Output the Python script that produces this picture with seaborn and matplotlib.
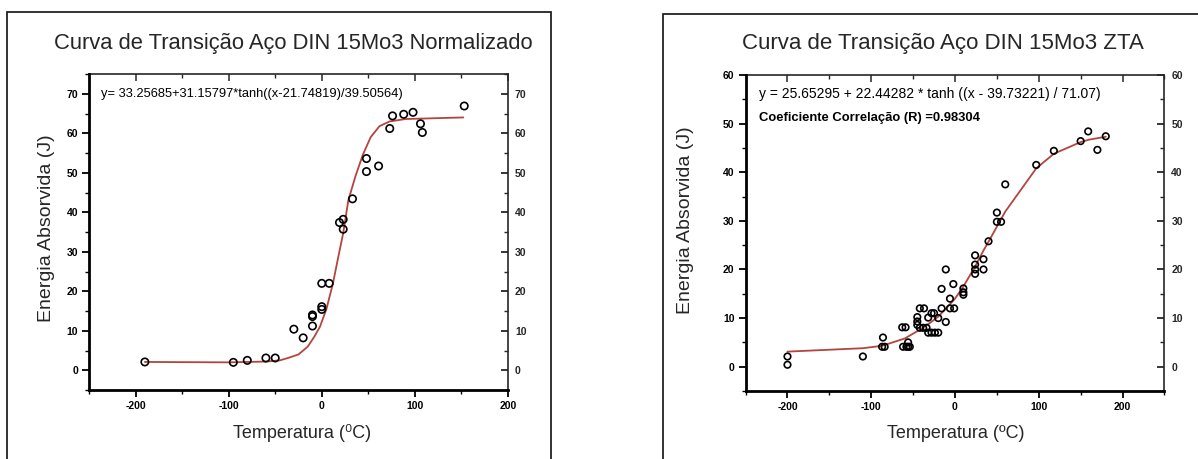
import numpy as np
import pandas as pd
import matplotlib
matplotlib.use("Agg")
import matplotlib.pyplot as plt
from matplotlib.ticker import MultipleLocator
from matplotlib.patches import Rectangle
import seaborn as sns

# ---------------- data ----------------
left_title = "Curva de Transição Aço DIN 15Mo3 Normalizado"
right_title = "Curva de Transição Aço DIN 15Mo3 ZTA"
y_label = "Energia Absorvida (J)"
left_xlabel = "Temperatura (\u2070C)"
right_xlabel = "Temperatura (ºC)"
left_equation = "y= 33.25685+31.15797*tanh((x-21.74819)/39.50564)"
right_equation = "y = 25.65295 + 22.44282 * tanh ((x - 39.73221) / 71.07)"
right_corr = "Coeficiente Correlação (R) =0.98304"

left_temp = [-190, -95, -80, -60, -50, -30, -20, -10, -10, -10, 0, 0, 0, 8,
             19, 23, 23, 33, 48, 48, 61, 73, 76, 88, 98, 106, 108, 153]
left_energy = [2.1, 2.0, 2.5, 3.1, 3.1, 10.4, 8.2, 14.0, 13.6, 11.2, 16.1, 15.4, 22.0, 22.0,
               37.4, 38.2, 35.7, 43.4, 53.6, 50.3, 51.7, 61.2, 64.4, 64.8, 65.3, 62.4, 60.2, 66.9]

left_fit_temp = [-190, -100, -60, -45, -35, -25, -15, -8, -2, 5, 12, 18, 23, 28.5,
                 36, 44, 52.5, 62, 73, 90, 152]
left_fit_energy = [2.1, 2.0, 2.2, 2.5, 3.2, 4.0, 6.0, 8.5, 11.0, 15.5, 22.0, 29.0, 34.7, 43.0,
                   49.0, 54.5, 59.0, 61.8, 63.0, 63.6, 64.0]

right_temp = [-200, -200, -110,
              -87, -84, -86,
              -63, -59, -62, -58, -56, -56, -54,
              -45, -45, -45, -42, -37, -42, -38, -34,
              -32, -28, -24, -20, -32, -28, -25, -20,
              -16, -16, -11, -11, -6, -6, -1, -2,
              10, 10, 10, 24, 24, 24, 24, 34, 34, 40,
              50, 50, 55, 60, 97, 118, 150, 159, 170, 180]
right_energy = [2.1, 0.4, 2.1,
                4.1, 4.1, 6.0,
                8.1, 8.1, 4.1, 4.1, 5.0, 4.1, 4.1,
                10.2, 9.3, 8.6, 12.0, 12.0, 8.0, 8.0, 8.0,
                7.0, 7.0, 7.0, 7.0, 10.1, 11.0, 11.0, 10.0,
                12.0, 16.0, 20.0, 9.2, 14.0, 12.0, 12.0, 17.0,
                16.1, 15.3, 14.8, 22.9, 21.0, 20.0, 19.1, 22.1, 20.0, 25.8,
                31.7, 29.8, 29.8, 37.5, 41.5, 44.4, 46.4, 48.4, 44.6, 47.4]

right_fit_temp = [-200, -110, -87, -60, -42, -30, -20, -10, 0, 10, 24, 34, 40, 50,
                  60, 97, 118, 150, 160, 170, 180]
right_fit_energy = [3.1, 3.8, 4.3, 5.8, 7.6, 9.0, 10.3, 12.1, 14.0, 16.5, 20.6, 23.9, 25.7, 28.8,
                    31.9, 40.8, 43.8, 46.2, 46.7, 47.0, 47.3]

left_xticks = [-200, -100, 0, 100, 200]
left_yticks = [0, 10, 20, 30, 40, 50, 60, 70]
right_xticks = [-200, -100, 0, 100, 200]
right_yticks = [0, 10, 20, 30, 40, 50, 60]

# ---------------- style ----------------
sns.set_style("ticks")
plt.rcParams["font.family"] = ["Liberation Sans", "DejaVu Sans"]
plt.rcParams["axes.unicode_minus"] = False

W, H = 1198, 459
fig = plt.figure(figsize=(W / 100, H / 100), dpi=100)
fig.patch.set_facecolor("white")

RED = "#b5443e"


def fx(px):
    return px / W


def fy(py):
    return 1 - py / H


# frames around each panel
fig.add_artist(Rectangle((fx(7), fy(470)), fx(551 - 7), (470 - 12) / H, fill=False,
                         lw=1.3, ec="#222222", transform=fig.transFigure))
fig.add_artist(Rectangle((fx(663), fy(470)), fx(1210 - 663), (470 - 14) / H, fill=False,
                         lw=1.3, ec="#222222", transform=fig.transFigure))


def style_axis(ax, xlim, ylim, xticks, yticks):
    ax.set_xlim(*xlim)
    ax.set_ylim(*ylim)
    ax.set_xticks(xticks)
    ax.set_yticks(yticks)
    ax.xaxis.set_minor_locator(MultipleLocator(50))
    ax.yaxis.set_minor_locator(MultipleLocator(5))
    for s in ["left", "bottom"]:
        ax.spines[s].set_linewidth(2.0)
        ax.spines[s].set_color("black")
    for s in ["top", "right"]:
        ax.spines[s].set_visible(False)
    ax.tick_params(which="major", direction="out", length=5, width=1.3, colors="black",
                   labelsize=7.5, pad=3)
    ax.tick_params(which="minor", direction="out", length=3, width=1.0, colors="black")
    for lab in ax.get_xticklabels() + ax.get_yticklabels():
        lab.set_fontweight("bold")
    # top axis (ticks inside, no labels)
    top = ax.secondary_xaxis("top")
    top.set_xticks(xticks)
    top.xaxis.set_minor_locator(MultipleLocator(50))
    top.tick_params(which="major", direction="in", length=5, width=1.1, labeltop=False)
    top.tick_params(which="minor", direction="in", length=3, width=1.0)
    top.spines["top"].set_linewidth(1.2)
    # right axis (ticks inside, labels)
    right = ax.secondary_yaxis("right")
    right.set_yticks(yticks)
    right.yaxis.set_minor_locator(MultipleLocator(5))
    right.tick_params(which="major", direction="in", length=5, width=1.3, labelsize=7.5, pad=5)
    right.tick_params(which="minor", direction="in", length=3, width=1.0)
    right.spines["right"].set_linewidth(1.2)
    for lab in right.get_yticklabels():
        lab.set_fontweight("bold")
    ax.set_xlabel("")
    ax.set_ylabel("")


# ---------------- left panel ----------------
axL = fig.add_axes([fx(89), fy(390), fx(508 - 89), (390 - 74) / H])
dfL = pd.DataFrame({"T": left_temp, "E": left_energy})
dfLf = pd.DataFrame({"T": left_fit_temp, "E": left_fit_energy})
sns.lineplot(data=dfLf, x="T", y="E", ax=axL, color=RED, lw=1.3, estimator=None, sort=False)
sns.scatterplot(data=dfL, x="T", y="E", ax=axL, marker="o", s=28, facecolor="none",
                edgecolor="black", linewidth=1.2, zorder=3)
style_axis(axL, (-250, 200), (-5, 75), left_xticks, left_yticks)
axL.text(-237, 70, left_equation, fontsize=9.3, va="center", ha="left", color="black")

# ---------------- right panel ----------------
axR = fig.add_axes([fx(745.6), fy(391), fx(1164.4 - 745.6), (391 - 75) / H])
dfR = pd.DataFrame({"T": right_temp, "E": right_energy})
dfRf = pd.DataFrame({"T": right_fit_temp, "E": right_fit_energy})
sns.lineplot(data=dfRf, x="T", y="E", ax=axR, color=RED, lw=1.3, estimator=None, sort=False)
sns.scatterplot(data=dfR, x="T", y="E", ax=axR, marker="o", s=22, facecolor="none",
                edgecolor="black", linewidth=1.2, zorder=3)
style_axis(axR, (-250, 250), (-5, 60), right_xticks, right_yticks)
axR.text(-234, 56.0, right_equation, fontsize=10, va="center", ha="left", color="black")
axR.text(-234, 51.2, right_corr, fontsize=9.4, va="center", ha="left", color="black",
         fontweight="bold")

# ---------------- titles and labels ----------------
fig.text(fx(293), fy(43), left_title, fontsize=15.8, ha="center", va="center")
fig.text(fx(943), fy(43), right_title, fontsize=16, ha="center", va="center")
fig.text(fx(47), fy(228), y_label, fontsize=14, rotation=90, ha="center", va="center")
fig.text(fx(685), fy(220), y_label, fontsize=14, rotation=90, ha="center", va="center")
fig.text(fx(302), fy(433), left_xlabel, fontsize=13, ha="center", va="center",
         family=["Liberation Sans", "DejaVu Sans"])
fig.text(fx(956), fy(433), right_xlabel, fontsize=13, ha="center", va="center")

fig.savefig("out.png", dpi=100, facecolor="white")
